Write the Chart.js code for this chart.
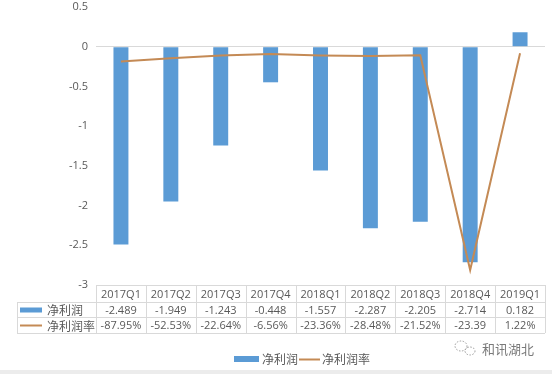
<!DOCTYPE html>
<html><head><meta charset="utf-8">
<script src="https://cdn.jsdelivr.net/npm/chart.js@4"></script>
<style>html,body{margin:0;padding:0;background:#fff}#wrap{width:552px;height:374px;position:relative}</style>
</head><body><div id="wrap"><canvas id="c" width="552" height="374"></canvas></div>
<script>
const categories = ['2017Q1','2017Q2','2017Q3','2017Q4','2018Q1','2018Q2','2018Q3','2018Q4','2019Q1'];
const netProfit = [-2.489,-1.949,-1.243,-0.448,-1.557,-2.287,-2.205,-2.714,0.182];
const profitMargin = [-0.8795,-0.5253,-0.2264,-0.0656,-0.2336,-0.2848,-0.2152,-23.39,0.0122];
const netProfitText = ['-2.489','-1.949','-1.243','-0.448','-1.557','-2.287','-2.205','-2.714','0.182'];
const marginText = ['-87.95%','-52.53%','-22.64%','-6.56%','-23.36%','-28.48%','-21.52%','-23.39','1.22%'];
const seriesNames = ['净利润','净利润率'];
const watermark = '和讯湖北';

const BLUE = '#5B9BD5', ORANGE = '#C48A55', TXT = '#595959', GRID = '#D9D9D9';
const FONT = '"Open Sans","Noto Sans CJK SC",sans-serif';
const CJK = '"Noto Sans CJK SC",sans-serif';

const tablePlugin = {
  id: 'tablePlugin',
  afterDraw(chart) {
    const ctx = chart.ctx, a = chart.chartArea, xs = chart.scales.x;
    const n = categories.length, w = (a.right - a.left) / n;
    const y0 = a.bottom, y1 = y0 + 17, y2 = y1 + 15, y3 = y2 + 16, lx = 17;
    ctx.save();
    ctx.strokeStyle = GRID; ctx.lineWidth = 1;
    ctx.beginPath();
    ctx.moveTo(a.left, y0 + 0.5); ctx.lineTo(a.right, y0 + 0.5);
    [y1, y2, y3].forEach(y => { ctx.moveTo(lx, y + 0.5); ctx.lineTo(a.right, y + 0.5); });
    for (let k = 0; k <= n; k++) { const x = Math.round(a.left + k * w) + 0.5; ctx.moveTo(x, y0); ctx.lineTo(x, y3); }
    ctx.moveTo(lx + 0.5, y1); ctx.lineTo(lx + 0.5, y3);
    ctx.stroke();
    ctx.fillStyle = TXT; ctx.textAlign = 'center'; ctx.textBaseline = 'middle';
    ctx.font = '11px ' + FONT;
    for (let i = 0; i < n; i++) {
      const cx = xs.getPixelForValue(i);
      ctx.fillText(categories[i], cx, (y0 + y1) / 2 + 1);
      ctx.fillText(netProfitText[i], cx, (y1 + y2) / 2 + 1);
      ctx.fillText(marginText[i], cx, (y2 + y3) / 2 + 1);
    }
    // row keys
    ctx.fillStyle = BLUE; ctx.fillRect(20, (y1 + y2) / 2 - 2, 22, 5);
    ctx.strokeStyle = ORANGE; ctx.lineWidth = 2;
    ctx.beginPath(); ctx.moveTo(20, (y2 + y3) / 2 + 0.5); ctx.lineTo(42, (y2 + y3) / 2 + 0.5); ctx.stroke();
    ctx.fillStyle = TXT; ctx.textAlign = 'left'; ctx.font = '12px ' + CJK;
    ctx.fillText(seriesNames[0], 47, (y1 + y2) / 2 + 1);
    ctx.fillText(seriesNames[1], 47, (y2 + y3) / 2 + 1);
    // legend
    const ly = 359;
    ctx.fillStyle = BLUE; ctx.fillRect(234, ly - 3, 25, 6);
    ctx.fillStyle = TXT; ctx.fillText(seriesNames[0], 262, ly);
    ctx.strokeStyle = ORANGE; ctx.lineWidth = 2;
    ctx.beginPath(); ctx.moveTo(299, ly + 0.5); ctx.lineTo(320, ly + 0.5); ctx.stroke();
    ctx.fillText(seriesNames[1], 322, ly);
    // watermark
    ctx.fillStyle = '#7a7a7a'; ctx.font = '13px ' + CJK;
    ctx.fillText(watermark, 482, 349);
    ctx.strokeStyle = '#9a9a9a'; ctx.lineWidth = 1; ctx.setLineDash([1.5, 1.5]);
    ctx.beginPath(); ctx.ellipse(461, 346, 6, 5, 0, 0, Math.PI * 2); ctx.stroke();
    ctx.beginPath(); ctx.ellipse(470, 351, 5, 4, 0, 0, Math.PI * 2); ctx.stroke();
    ctx.setLineDash([]);
    // bottom band
    ctx.fillStyle = '#ECECEC'; ctx.fillRect(0, 370, 552, 4);
    ctx.restore();
  }
};

new Chart(document.getElementById('c'), {
  data: {
    labels: categories,
    datasets: [
      { type: 'line', label: seriesNames[1], data: profitMargin, yAxisID: 'y1',
        borderColor: ORANGE, borderWidth: 2, pointRadius: 0, tension: 0, order: 0 },
      { type: 'bar', label: seriesNames[0], data: netProfit, yAxisID: 'y',
        backgroundColor: BLUE, barPercentage: 0.6, categoryPercentage: 0.5, order: 1 }
    ]
  },
  options: {
    responsive: false, animation: false,
    layout: { padding: { top: 7, right: 7, bottom: 89, left: 0 } },
    plugins: { legend: { display: false }, tooltip: { enabled: false } },
    scales: {
      x: { display: false },
      y: { min: -3, max: 0.5,
        afterFit: s => { s.width = 96; s.paddingTop = 0; s.paddingBottom = 0; },
        ticks: { stepSize: 0.5, color: TXT, font: { size: 11, family: FONT }, padding: 8,
          callback: v => String(Math.round(v * 10) / 10) },
        grid: { drawTicks: false, color: c => c.tick && c.tick.value === 0 ? GRID : 'rgba(0,0,0,0)' },
        border: { display: false } },
      y1: { display: false, min: -25, max: 5 }
    }
  },
  plugins: [tablePlugin]
});
</script></body></html>
